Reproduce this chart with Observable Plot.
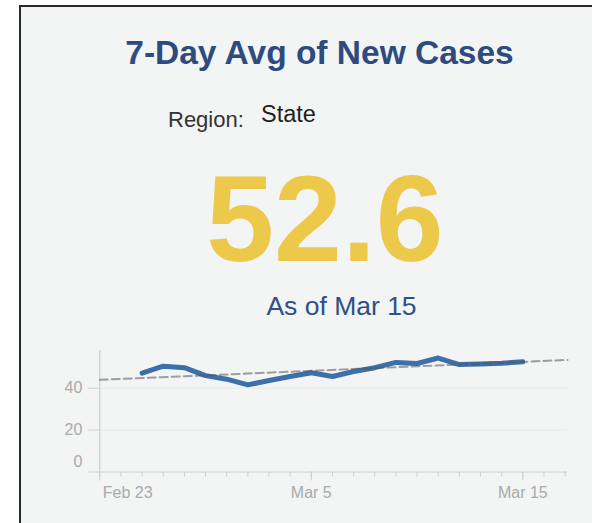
<!DOCTYPE html>
<html>
<head>
<meta charset="utf-8">
<script src="https://cdn.jsdelivr.net/npm/d3@7"></script>
<script src="https://cdn.jsdelivr.net/npm/@observablehq/plot@0.6"></script>
<style>
  html, body { margin: 0; padding: 0; background: #ffffff; }
  body { width: 592px; height: 523px; position: relative; overflow: hidden; font-family: "Liberation Sans", Arial, sans-serif; }
  #card { position: absolute; left: 19px; top: 5px; width: 700px; height: 700px; border: 2px solid #2a2a2a; background: #f3f4f4; box-sizing: border-box; }
  .t { position: absolute; white-space: nowrap; line-height: 1; }
  #chart { position: absolute; left: 0; top: 340px; }
</style>
</head>
<body>
<div id="card"></div>
<div class="t" id="title" style="left:0;width:639px;text-align:center;top:35.6px;font-size:33.5px;font-weight:bold;color:#2e4b7f;">7-Day Avg of New Cases</div>
<div class="t" id="regionLabel" style="left:168px;top:109.4px;font-size:22px;color:#333;">Region:</div>
<div class="t" id="regionValue" style="left:261px;top:103.4px;font-size:23.5px;color:#222;">State</div>
<div class="t" id="bigValue" style="left:0;width:650px;text-align:center;top:158.4px;font-size:122px;font-weight:bold;color:#ecc94b;"></div>
<div class="t" id="asOf" style="left:0;width:683px;text-align:center;top:292.6px;font-size:26.5px;color:#2f4f85;"></div>
<div id="chart"></div>
<script>
// ---- data ----
const dates = ["2021-02-25","2021-02-26","2021-02-27","2021-02-28","2021-03-01","2021-03-02","2021-03-03","2021-03-04","2021-03-05","2021-03-06","2021-03-07","2021-03-08","2021-03-09","2021-03-10","2021-03-11","2021-03-12","2021-03-13","2021-03-14","2021-03-15"];
const values = [47.2, 50.5, 49.8, 46.0, 44.3, 41.6, 43.7, 45.6, 47.4, 45.6, 48.0, 49.8, 52.3, 51.8, 54.4, 51.3, 51.5, 51.9, 52.6];
const trendDates = ["2021-02-23", "2021-03-17T02:40:00Z"];
const trendValues = [44.0, 53.5];
const yTicks = [0, 20, 40];
const xMajorTicks = ["2021-02-23", "2021-03-05", "2021-03-15"];
const regionName = "State";
const latestValue = 52.6;
const latestLabel = "As of Mar 15";

const data = dates.map((d, i) => ({date: new Date(d), value: values[i]}));
const trend = trendDates.map((d, i) => ({date: new Date(d), value: trendValues[i]}));
const majors = xMajorTicks.map(d => new Date(d));
const xDomain = [new Date("2021-02-23"), new Date("2021-03-17T02:40:00Z")];
const minors = d3.utcDay.range(xDomain[0], d3.utcDay.offset(xDomain[1], 1)).filter(d => d <= xDomain[1]);
const fmt = d3.utcFormat("%b %-d");

document.getElementById("bigValue").textContent = latestValue.toFixed(1);
document.getElementById("asOf").textContent = latestLabel;
document.getElementById("regionValue").textContent = regionName;

const axisColor = "#cfcfcf";
const labelColor = "#aaaaaa";

const chart = Plot.plot({
  width: 592,
  height: 183,
  marginLeft: 99.3,
  marginRight: 25,
  marginTop: 10,
  marginBottom: 51.5,
  style: {background: "transparent", fontFamily: "Liberation Sans, Arial, sans-serif", fontSize: "16px", overflow: "visible"},
  x: {type: "utc", domain: xDomain, axis: null},
  y: {domain: [0, 58], axis: null},
  marks: [
    Plot.gridY([20, 40], {stroke: "#e9e9e9", strokeOpacity: 1}),
    Plot.ruleY([0], {stroke: axisColor, strokeWidth: 1.2}),
    Plot.ruleX([xDomain[0]], {stroke: axisColor, strokeWidth: 1.2}),
    Plot.axisY(yTicks, {tickSize: 11, text: null, label: null, stroke: axisColor}),
    Plot.axisX(minors, {tickSize: 5, text: null, label: null, stroke: axisColor}),
    Plot.axisX(majors, {tickSize: 9, text: null, label: null, stroke: axisColor}),
    Plot.text(yTicks.filter(d => d !== 0), {y: d => d, frameAnchor: "left", dx: -17.5, textAnchor: "end", fill: labelColor, fontSize: 16}),
    Plot.text([0], {y: d => d, frameAnchor: "left", dx: -17.5, dy: -10, textAnchor: "end", fill: labelColor, fontSize: 16}),
    Plot.text(majors.slice(0, 1), {x: d => d, text: d => fmt(d), frameAnchor: "bottom", dy: 25.5, dx: 3, textAnchor: "start", fill: labelColor, fontSize: 16}),
    Plot.text(majors.slice(1), {x: d => d, text: d => fmt(d), frameAnchor: "bottom", dy: 25.5, textAnchor: "middle", fill: labelColor, fontSize: 16}),
    Plot.line(data, {x: "date", y: "value", stroke: "#3d6fa8", strokeWidth: 5, strokeLinejoin: "round", strokeLinecap: "round"}),
    Plot.line(trend, {x: "date", y: "value", stroke: "#555", strokeOpacity: 0.55, strokeWidth: 2, strokeDasharray: "8,4"})
  ]
});
document.getElementById("chart").appendChild(chart);
</script>
</body>
</html>
